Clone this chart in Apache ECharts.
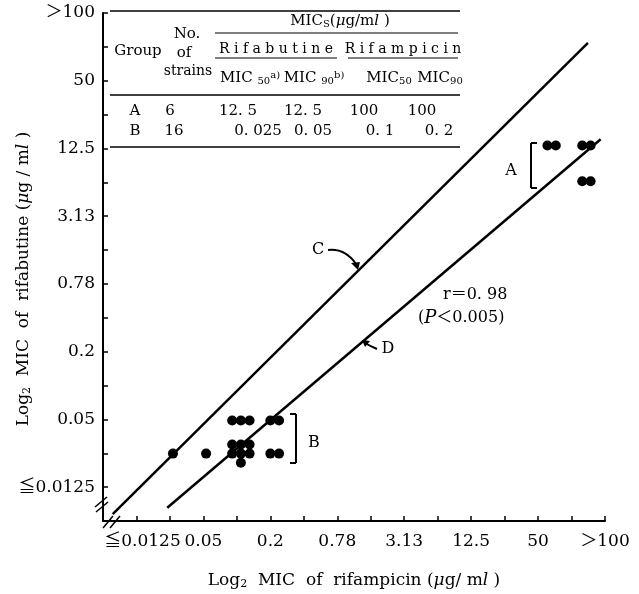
<!DOCTYPE html>
<html><head><meta charset="utf-8">
<script src="https://cdn.jsdelivr.net/npm/echarts@6/dist/echarts.min.js"></script>
<style>html,body{margin:0;padding:0;background:#fff}#c{width:639px;height:594px}</style>
</head><body><div id="c"></div>
<script>
// tick labels (every second log2 step)
const xTickText = ['≦0.0125','0.05','0.2','0.78','3.13','12.5','50','＞100'];
const yTickText = ['≦0.0125','0.05','0.2','0.78','3.13','12.5','50','＞100'];
// positions in log2 steps above 0.0125
const groupAx = [12.28,12.53,13.32,13.57,13.32,13.57];
const groupAy = [10.09,10.09,10.09,10.09,9.03,9.03];
const groupBx = [2.86,3.12,3.38,4.0,4.26, 2.86,3.12,3.38, 1.09,2.08,2.86,3.12,3.38,4.0,4.26, 3.12];
const groupBy = [1.97,1.97,1.97,1.97,1.97, 1.26,1.26,1.26, 0.99,0.99,0.99,0.99,0.99,0.99,0.99, 0.72];
const lineCx = [-0.71, 13.49], lineCy = [-0.80, 13.12];
const lineDx = [0.92, 13.87], lineDy = [-0.61, 10.27];

const zip = (a,b)=>a.map((v,i)=>[v,b[i]]);
const SERIF = '"DejaVu Serif","Liberation Serif","Noto Sans CJK JP",serif';
const fmt = arr => v => (v>=0 && Math.abs(v%2)<1e-9) ? arr[Math.round(v/2)] : '';
const fmtX = v => (v===0) ? '{f|'+xTickText[0]+'}' : fmt(xTickText)(v);

const chart = echarts.init(document.getElementById('c'), null, {renderer:'canvas'});

function txt(x,y,text,opts){
  return {type:'text', x:x, y:y, style:Object.assign({text:text, font:'15px '+SERIF, fill:'#000', align:'center', verticalAlign:'middle'}, opts||{})};
}
function hline(x1,x2,y,w){ return {type:'line', shape:{x1:x1,y1:y,x2:x2,y2:y}, style:{stroke:'#000', lineWidth:w||1.5}}; }
function seg(x1,y1,x2,y2,w){ return {type:'line', shape:{x1:x1,y1:y1,x2:x2,y2:y2}, style:{stroke:'#000', lineWidth:w||1.5}}; }

const richSub = {
  sub:{fontSize:10, fontFamily:SERIF, padding:[7,0,0,0]},
  sup:{fontSize:10, fontFamily:SERIF, padding:[0,0,6,0]},
  i:{fontSize:15, fontFamily:SERIF, fontStyle:'italic'}
};

const graphics = [
  // table rules
  hline(110,460,11,1.5),
  hline(215,458,33,1.2),
  hline(215,337,58,1.2),
  hline(348,458,58,1.2),
  hline(110,460,95,1.5),
  hline(110,460,147,1.5),
  // table text
  txt(138,51,'Group'),
  txt(187,34,'No.'),
  txt(184,53,'of'),
  txt(188,71,'strains',{font:'14px '+SERIF}),
  txt(340,21,'MIC{sub|S}({i|μ}g/m{i|l} )',{rich:richSub}),
  txt(276,49,'R i f a b u t i n e',{font:'14px '+SERIF}),
  txt(403,49,'R i f a m p i c i n',{font:'14px '+SERIF}),
  txt(250,78,'MIC {sub|50}{sup|a)}',{rich:richSub}),
  txt(314,78,'MIC {sub|90}{sup|b)}',{rich:richSub}),
  txt(389,78,'MIC{sub|50}',{rich:richSub}),
  txt(440,78,'MIC{sub|90}',{rich:richSub}),
  txt(135,111,'A'), txt(170,111,'6'), txt(238,111,'12. 5'), txt(303,111,'12. 5'), txt(364,111,'100'), txt(422,111,'100'),
  txt(135,131,'B'), txt(174,131,'16'), txt(258,131,'0. 025'), txt(313,131,'0. 05'), txt(380,131,'0. 1'), txt(439,131,'0. 2'),
  // annotations
  txt(318,250,'C',{font:'16px '+SERIF}),
  {type:'bezierCurve', shape:{x1:328,y1:250,cpx1:345,cpy1:248,x2:356,y2:264}, style:{stroke:'#000',lineWidth:2,fill:null}},
  {type:'polygon', shape:{points:[[351,263],[360,262],[358,270]]}, style:{fill:'#000'}},
  txt(388,349,'D',{font:'16px '+SERIF}),
  {type:'bezierCurve', shape:{x1:377,y1:349,cpx1:370,cpy1:346,x2:365,y2:343}, style:{stroke:'#000',lineWidth:2,fill:null}},
  {type:'polygon', shape:{points:[[362,340],[370,341],[365,347]]}, style:{fill:'#000'}},
  txt(443,295,'r＝0. 98',{font:'16px '+SERIF, align:'left'}),
  txt(418,318,'({i|P}＜0.005)',{font:'16px '+SERIF, align:'left', rich:{i:{fontStyle:'italic', fontSize:18, fontFamily:SERIF}}}),
  txt(511,171,'A',{font:'16px '+SERIF}),
  seg(531,143,531,188,2), seg(531,143,537,143,2), seg(531,188,537,188,2),
  txt(314,443,'B',{font:'16px '+SERIF}),
  seg(296,414,296,463,2), seg(290,414,296,414,2), seg(290,463,296,463,2),
  // axis breaks
  {type:'rect', shape:{x:98,y:500,width:10,height:10}, style:{fill:'#fff'}},
  seg(95,507,107,497,1.5), seg(96,512,108,502,1.5),
  {type:'rect', shape:{x:108,y:516,width:8,height:10}, style:{fill:'#fff'}},
  seg(103,528,113,516,1.5), seg(110,528,120,516,1.5)
];

const nameRich = {s:{fontSize:11, fontFamily:SERIF, padding:[8,0,0,0]}, i:{fontSize:17, fontFamily:SERIF, fontStyle:'italic'}};
const option = {
  backgroundColor:'#fff',
  animation:false,
  grid:{left:103, right:34, top:13, bottom:73, containLabel:false, outerBoundsMode:'none'},
  xAxis:{
    type:'value', min:-1, max:14, interval:1,
    name:'Log{s|2}  MIC  of  rifampicin ({i|μ}g/ m{i|l} )', nameLocation:'middle', nameGap:50, nameMoveOverlap:false,
    nameTextStyle:{fontFamily:SERIF, fontSize:17, color:'#000', padding:[0,0,0,0], rich:nameRich},
    axisLine:{onZero:false, lineStyle:{color:'#000', width:2}},
    axisTick:{inside:true, length:5, lineStyle:{color:'#000', width:1.5}},
    axisLabel:{formatter:fmtX, fontFamily:SERIF, fontSize:17, color:'#000', margin:12, showMinLabel:true, showMaxLabel:true,
      rich:{f:{fontFamily:SERIF, fontSize:17, color:'#000', padding:[0,0,0,12]}}},
    splitLine:{show:false}
  },
  yAxis:{
    type:'value', min:-1, max:14, interval:1,
    name:'Log{s|2}  MIC  of  rifabutine ({i|μ}g / m{i|l} )', nameLocation:'middle', nameGap:70, nameRotate:90, nameMoveOverlap:false,
    nameTextStyle:{fontFamily:SERIF, fontSize:17, color:'#000', padding:[0,24,0,0], rich:nameRich},
    axisLine:{onZero:false, lineStyle:{color:'#000', width:2}},
    axisTick:{inside:true, length:5, lineStyle:{color:'#000', width:1.5}},
    axisLabel:{formatter:fmt(yTickText), fontFamily:SERIF, fontSize:17, color:'#000', margin:8, showMinLabel:true, showMaxLabel:true},
    splitLine:{show:false}
  },
  series:[
    {type:'line', data:zip(lineCx,lineCy), symbol:'none', lineStyle:{color:'#000', width:2.5}},
    {type:'line', data:zip(lineDx,lineDy), symbol:'none', lineStyle:{color:'#000', width:2.5}},
    {type:'scatter', data:zip(groupAx,groupAy), symbolSize:10, itemStyle:{color:'#000', opacity:1}},
    {type:'scatter', data:zip(groupBx,groupBy), symbolSize:10, itemStyle:{color:'#000', opacity:1}}
  ],
  graphic:graphics
};
chart.setOption(option);
</script></body></html>
